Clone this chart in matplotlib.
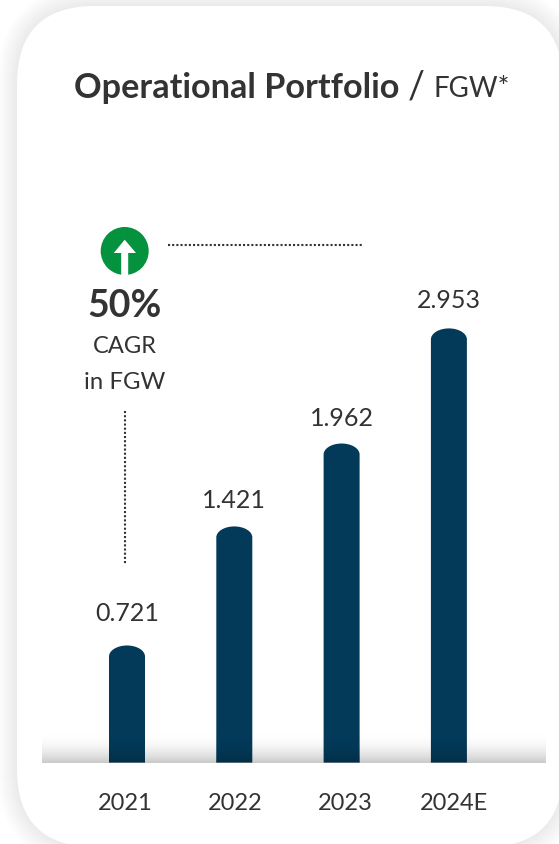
import numpy as np
import matplotlib
matplotlib.use("Agg")
import matplotlib.pyplot as plt
from matplotlib.patches import FancyBboxPatch, PathPatch, Circle, Polygon
from matplotlib.path import Path

W, H = 559, 845

years = ["2021", "2022", "2023", "2024E"]
value_labels = ["0.721", "1.421", "1.962", "2.953"]
# the drawn bars are not to scale with the printed numbers, so heights are read off separately
bar_heights = [0.796, 1.606, 2.170, 2.953]
label_gaps = [33, 27, 27, 29]
tick_shift = [-1.5, 0.5, 3.5, 5]

DARK = "#333333"
NAVY = "#033a59"
GREEN = "#05923f"
FONT = "Lato"

plt.rcParams["font.family"] = [FONT, "DejaVu Sans"]

fig = plt.figure(figsize=(W / 100, H / 100), dpi=100, facecolor="white")

# pixel overlay for the card and the annotations
bg = fig.add_axes([0, 0, 1, 1], zorder=0)
bg.set_xlim(0, W)
bg.set_ylim(H, 0)
bg.axis("off")

# soft shadow round the card
for grow in range(20, 0, -1):
    bg.add_patch(FancyBboxPatch((17 - grow, 7 - grow), 546 + 2 * grow, 841 + 2 * grow,
                                boxstyle="round,pad=0,rounding_size=%d" % (78 + grow),
                                fc="black", ec="none", alpha=0.003))
bg.add_patch(FancyBboxPatch((17, 7), 546, 841, boxstyle="round,pad=0,rounding_size=78",
                            fc="white", ec="none"))

# chart axes, baseline at y=763.5, 147 px per unit
BASE = 763.5
ax = fig.add_axes([42 / W, (H - BASE) / H, (546 - 42) / W, BASE / H], zorder=1)
ax.patch.set_alpha(0)
x_scale = 107.3
x0 = (42 - 127) / x_scale
x1 = (546 - 127) / x_scale
for s in ax.spines.values():
    s.set_visible(False)
ax.set_yticks([])
ax.set_xticks([i + d / x_scale for i, d in enumerate(tick_shift)])
ax.set_xticklabels(years, fontsize=17, color=DARK)
ax.tick_params(axis="x", length=0, pad=21)

# grey floor gradient, strongest at the baseline
fade = np.linspace(1, 0, 64).reshape(-1, 1) ** 2.2
rgba = np.zeros((64, 1, 4))
rgba[..., :3] = 0.72
rgba[..., 3] = fade * 0.75
ax.imshow(rgba, extent=(x0, x1, 0, 32 / 147), origin="lower", aspect="auto", zorder=1)

bar_w = 36 / x_scale
cap = 11 / 147
k = 0.5523
shade = np.zeros((64, 1, 4))
shade[..., 3] = fade * 0.2
for i, h in enumerate(bar_heights):
    l, r = i - bar_w / 2, i + bar_w / 2
    verts = [(l, 0), (l, h - cap),
             (l, h - cap + k * cap), (i - k * bar_w / 2, h), (i, h),
             (i + k * bar_w / 2, h), (r, h - cap + k * cap), (r, h - cap),
             (r, 0), (l, 0)]
    codes = [Path.MOVETO, Path.LINETO, Path.CURVE4, Path.CURVE4, Path.CURVE4,
             Path.CURVE4, Path.CURVE4, Path.CURVE4, Path.LINETO, Path.CLOSEPOLY]
    ax.add_patch(PathPatch(Path(verts, codes), fc=NAVY, ec="none", zorder=3))
    ax.imshow(shade, extent=(l, r, 0, 32 / 147), origin="lower", aspect="auto", zorder=4)
    ax.annotate(value_labels[i], (i, h), xytext=(0, (label_gaps[i] - 0.5) * 0.72), textcoords="offset points",
                ha="center", va="center", fontsize=18, color=DARK)
ax.set_xlim(x0, x1)
ax.set_ylim(0, BASE / 147)

# title
bg.text(74, 88, "Operational Portfolio", fontsize=24.7, fontweight="bold", color=DARK, va="center")
bg.text(408, 87, "/", fontsize=27, color=DARK, va="center")
bg.text(433, 89, "FGW*", fontsize=20, color=DARK, va="center")

# CAGR badge
bg.add_patch(Circle((124.7, 252), 24, fc=GREEN, ec="none"))
bg.add_patch(Polygon([(124.7, 240.7), (136, 254), (128.2, 254), (128.2, 277), (121.2, 277),
                      (121.2, 254), (113.8, 254)], closed=True, fc="white", ec="none"))
bg.text(125, 306, "50%", fontsize=27, fontweight="bold", color=DARK, ha="center", va="center")
bg.text(125, 347, "CAGR", fontsize=17, color=DARK, ha="center", va="center")
bg.text(124.5, 383, "in FGW", fontsize=17.3, color=DARK, ha="center", va="center")

# dotted guides
bg.plot([168, 362], [245.5, 245.5], color=DARK, lw=1.5, dashes=(1, 1))
bg.plot([124.5, 124.5], [412, 565], color=DARK, lw=1.5, dashes=(1, 1))

fig.savefig("out.png", dpi=100, facecolor="white")
